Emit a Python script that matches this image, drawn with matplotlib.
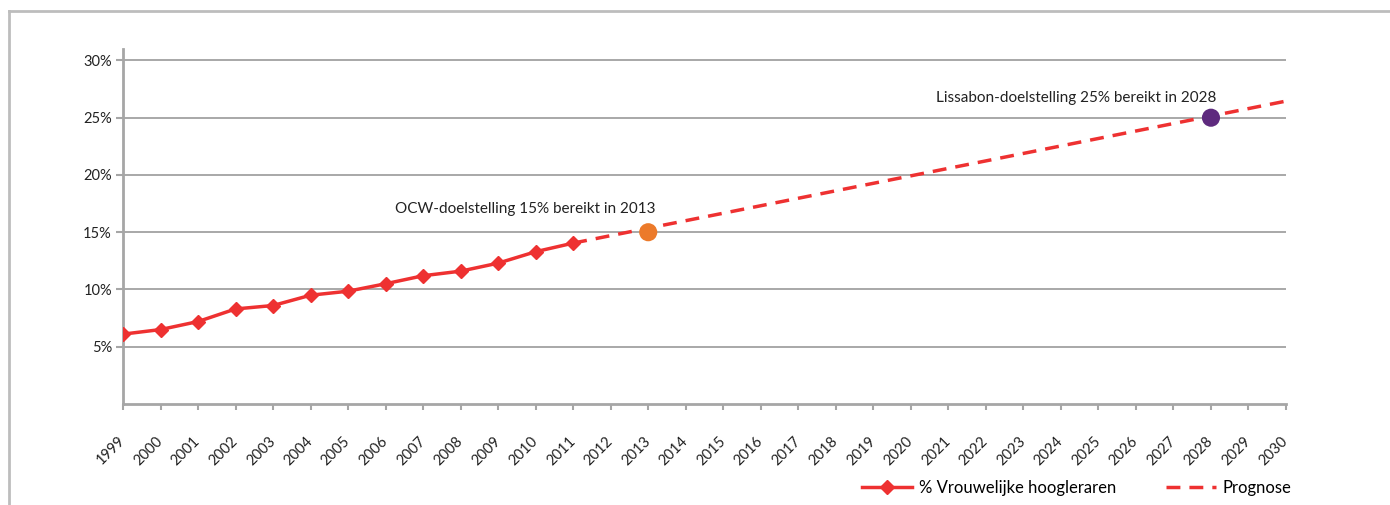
import matplotlib
matplotlib.use('Agg')
import matplotlib.pyplot as plt
from matplotlib.lines import Line2D

plt.rcParams['font.family'] = ['Lato', 'DejaVu Sans']

# Jaren op de x-as (categorisch, gelijk verdeeld)
jaren = ['1999', '2000', '2001', '2002', '2003', '2004', '2005', '2006', '2007', '2008',
         '2009', '2010', '2011', '2012', '2013', '2014', '2015', '2016', '2017', '2018',
         '2019', '2020', '2021', '2022', '2023', '2024', '2025', '2026', '2027', '2028',
         '2029', '2030']

# Gemeten aandeel vrouwelijke hoogleraren (%)
gemeten_jaren = ['1999', '2000', '2001', '2002', '2003', '2004', '2005', '2006',
                 '2007', '2008', '2009', '2010', '2011']
gemeten = [6.1, 6.5, 7.2, 8.3, 8.6, 9.5, 9.85, 10.5, 11.2, 11.6, 12.3, 13.3, 14.05]

# Prognose (rechte lijn)
prognose_jaren = ['2011', '2030']
prognose = [14.05, 26.45]

# Doelstellingen
doel_jaren = ['2013', '2028']
doel_waarden = [15, 25]
doel_kleuren = ['#ec7a2a', '#5e2a7e']

rood = '#ee3131'
grijs = '#a6a6a6'

idx = {j: i for i, j in enumerate(jaren)}

fig = plt.figure(figsize=(13.9, 5.05), dpi=100)
ax = fig.add_axes([123 / 1390, 1 - 404 / 505, (1286 - 123) / 1390, (404 - 49) / 505])

# rand om de figuur (alleen boven en links zichtbaar)
fig.add_artist(Line2D([9 / 1390, 9 / 1390], [0, 1 - 11 / 505], transform=fig.transFigure,
                      color='#bdbdbd', lw=2))
fig.add_artist(Line2D([9 / 1390, 1], [1 - 11 / 505, 1 - 11 / 505], transform=fig.transFigure,
                      color='#bdbdbd', lw=2))

ax.plot([idx[j] for j in prognose_jaren], prognose, color=rood, lw=2.5,
        dashes=(4, 2.6), zorder=3)
ax.plot([idx[j] for j in gemeten_jaren], gemeten, color=rood, lw=2.5,
        marker='D', markersize=7, zorder=4)
ax.scatter([idx[j] for j in doel_jaren], doel_waarden, s=170, c=doel_kleuren,
           zorder=5, linewidths=0)

ax.text(idx['2013'] + 0.2, 17.0, 'OCW-doelstelling 15% bereikt in 2013',
        ha='right', va='center', fontsize=11, color='#222222')
ax.text(idx['2028'] + 0.15, 26.7, 'Lissabon-doelstelling 25% bereikt in 2028',
        ha='right', va='center', fontsize=11, color='#222222')

ax.set_xlim(0, len(jaren) - 1)
ax.set_ylim(0, 31)
ax.set_xticks(range(len(jaren)))
ax.set_xticklabels(jaren, rotation=45, ha='right', va='center', rotation_mode='anchor',
                   fontsize=10.5)
ax.set_yticks([5, 10, 15, 20, 25, 30])
ax.set_yticklabels(['5%', '10%', '15%', '20%', '25%', '30%'], fontsize=10.5)
ax.grid(axis='y', color='#9a9a9a', lw=1.2)
ax.set_axisbelow(True)

for s in ['top', 'right']:
    ax.spines[s].set_visible(False)
for s in ['left', 'bottom']:
    ax.spines[s].set_color(grijs)
    ax.spines[s].set_linewidth(2)
ax.tick_params(axis='x', length=4, width=1.5, color=grijs, pad=21, labelcolor='#222222')
ax.tick_params(axis='y', length=5, width=1.5, color=grijs, pad=3, labelcolor='#222222')

handles = [Line2D([], [], color=rood, lw=2.5, marker='D', markersize=7),
           Line2D([], [], color=rood, lw=2.5, dashes=(4, 2.6))]
fig.legend(handles, ['% Vrouwelijke hoogleraren', 'Prognose'], loc='center',
           bbox_to_anchor=(1077 / 1390, 1 - 488 / 505), ncol=2, frameon=False,
           fontsize=12, handlelength=3.0, handletextpad=0.4, columnspacing=3.0)

fig.savefig('out.png', dpi=100)
